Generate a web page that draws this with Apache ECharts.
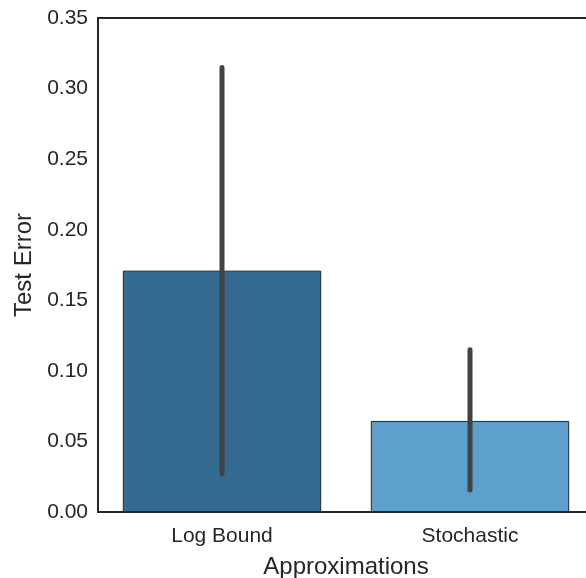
<!DOCTYPE html>
<html>
<head>
<meta charset="utf-8">
<script src="https://cdn.jsdelivr.net/npm/echarts@6/dist/echarts.min.js"></script>
<style>
    html, body { margin: 0; padding: 0; background: #fff; }
    #chart { width: 586px; height: 578px; }
</style>
</head>
<body>
<div id="chart"></div>
<script>
    // data
    var categories = ['Log Bound', 'Stochastic'];
    var meanError = [0.171, 0.0645];
    var ciLow = [0.027, 0.0155];
    var ciHigh = [0.315, 0.115];
    var barColors = ['#356b91', '#5d9fcd'];

    var chart = echarts.init(document.getElementById('chart'));
    var ink = '#262626';
    var font = '"Liberation Sans", Arial, sans-serif';

    var errData = categories.map(function (c, i) { return [i, ciLow[i], ciHigh[i]]; });

    chart.setOption({
        animation: false,
        backgroundColor: '#ffffff',
        grid: {
            left: 98, top: 18, right: -8, bottom: 66,
            outerBoundsMode: 'none',
            containLabel: false,
            show: true, borderColor: ink, borderWidth: 2
        },
        xAxis: {
            type: 'category',
            data: categories,
            name: 'Approximations',
            nameLocation: 'middle',
            nameGap: 43,
            nameTextStyle: { color: ink, fontSize: 24, fontFamily: font },
            axisTick: { show: false },
            axisLine: { lineStyle: { color: ink, width: 2 } },
            axisLabel: { color: ink, fontSize: 21, fontFamily: font, margin: 14 }
        },
        yAxis: {
            type: 'value',
            min: 0, max: 0.35, interval: 0.05,
            name: 'Test Error',
            nameLocation: 'middle',
            nameGap: 60,
            nameTextStyle: { color: ink, fontSize: 24, fontFamily: font },
            axisTick: { show: false },
            splitLine: { show: false },
            axisLine: { show: true, lineStyle: { color: ink, width: 2 } },
            axisLabel: {
                color: ink, fontSize: 21, fontFamily: font, margin: 10,
                formatter: function (v) { return v.toFixed(2); }
            }
        },
        series: [
            {
                type: 'bar',
                barCategoryGap: '20%',
                data: meanError.map(function (v, i) {
                    return { value: v, itemStyle: { color: barColors[i] } };
                }),
                itemStyle: { borderColor: ink, borderWidth: 1 }
            },
            {
                type: 'custom',
                z: 5,
                data: errData,
                renderItem: function (params, api) {
                    var lo = api.coord([api.value(0), api.value(1)]);
                    var hi = api.coord([api.value(0), api.value(2)]);
                    return {
                        type: 'line',
                        shape: { x1: lo[0], y1: lo[1], x2: hi[0], y2: hi[1] },
                        style: { stroke: '#424242', lineWidth: 5, lineCap: 'round' }
                    };
                }
            }
        ]
    });
</script>
</body>
</html>
